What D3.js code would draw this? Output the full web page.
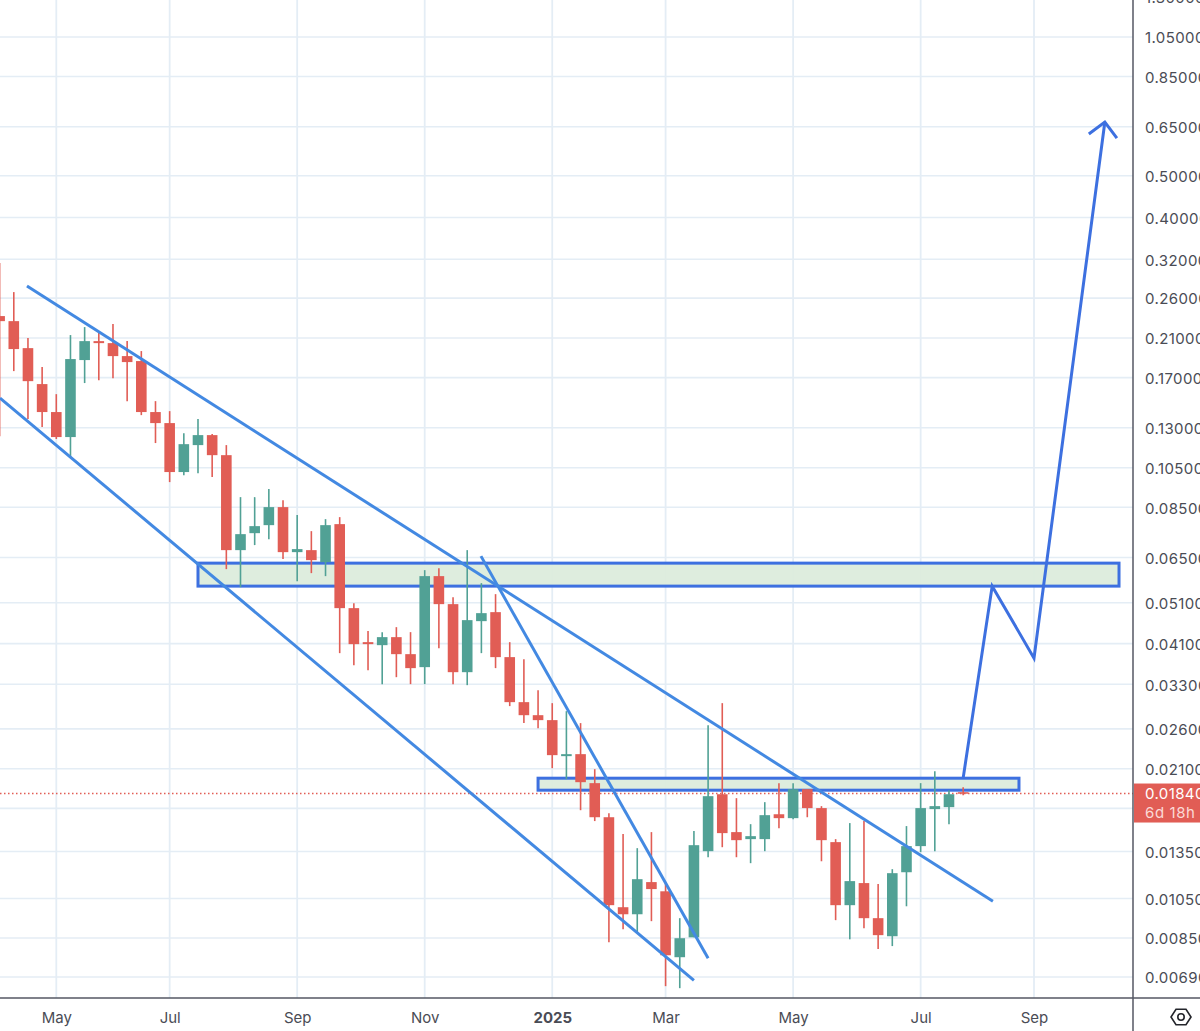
<!DOCTYPE html>
<html><head><meta charset="utf-8">
<script src="https://cdn.jsdelivr.net/npm/d3@7"></script>
<style>
html,body{margin:0;padding:0;background:#fff;overflow:hidden}
svg{display:block}
text{font-family:Inter,Roboto,sans-serif}
</style></head><body>
<svg id="c" width="1200" height="1031"></svg>
<script>
// Weekly candles, first bar 2024-04-08
const opens=[.2362,.2299,.1990,.1642,.1414,.1237,.1867,.2066,.2044,.1907,.1857,.1414,.1333,.1026,.1185,.1250,.1123,.06759,.07401,.07725,.08506,.06687,.06759,.06339,.07767,.04957,.04133,.04067,.04245,.03876,.03616,.05882,.05064,.0352,.04624,.04852,.03815,.02999,.02797,.02724,.02247,.02271,.01945,.01621,.01002,.00965,.01146,.01091,.00767,.00853,.01352,.01833,.01497,.01442,.01442,.01647,.01613,.01883,.01702,.01419,.01013,.0114,.00945,.00858,.01208,.01389,.01693,.01711,.01853];
const highs=[.3135,.2685,.2100,.1798,.1556,.2134,.2227,.2168,.2263,.2066,.1959,.1499,.1421,.1263,.1362,.1257,.1185,.08973,.08973,.09366,.0883,.0815,.07481,.07977,.08063,.05091,.04384,.0436,.04478,.0436,.06073,.06139,.05257,.06759,.05666,.05342,.04133,.03774,.03197,.02983,.02858,.02681,.02096,.01656,.01481,.01374,.01497,.01146,.00945,.01505,.02652,.02983,.01795,.01562,.01757,.01945,.01945,.01883,.0172,.01442,.01571,.01588,.01134,.01228,.01546,.01945,.02074,.01873,.01903];
const lows=[.1243,.1760,.1362,.1305,.1224,.1111,.1651,.1677,.1695,.1499,.1391,.1198,.09723,.1009,.1020,.09986,.06106,.05546,.06943,.07168,.06442,.05726,.05977,.05882,.03897,.03655,.03558,.03302,.03427,.03302,.03302,.04002,.03302,.03284,.03897,.03597,.02936,.02681,.0261,.02107,.01987,.01683,.01588,.00831,.00891,.00872,.0093,.00657,.0065,.00853,.01309,.01381,.01309,.01268,.01352,.01529,.01604,.01621,.01281,.00935,.00844,.00896,.00801,.00814,.01007,.01345,.01352,.01562,.01824];
const closes=[.2299,.1980,.1668,.1414,.1237,.1877,.2066,.2044,.1907,.1847,.1414,.1333,.1026,.1191,.1250,.1123,.06759,.07362,.07684,.08506,.06687,.06796,.06407,.07725,.04957,.04089,.04089,.04245,.03876,.03597,.05882,.05064,.0352,.04649,.04826,.03815,.02999,.02797,.02724,.02259,.02271,.01955,.01621,.01013,.00965,.01164,.01104,.00775,.00849,.01396,.01814,.01489,.01434,.01465,.01639,.01613,.01883,.01702,.01434,.01013,.01152,.00945,.00863,.01202,.01389,.01702,.0172,.01833,.0184];

const yTicks=[1.3,1.05,.85,.65,.5,.4,.32,.26,.21,.17,.13,.105,.085,.065,.051,.041,.033,.026,.021,.0135,.0105,.0085,.0069];
const hiddenGridPrice=0.017;
const xTickDates=["2024-05-06","2024-07-01","2024-09-02","2024-11-04","2025-01-06","2025-03-03","2025-05-05","2025-07-07","2025-09-01"];
const xTickLabels=["May","Jul","Sep","Nov","2025","Mar","May","Jul","Sep"];
const lastPrice=0.0184, lastLabel="0.01840", countdown="6d 18h";

// Hand-drawn overlays: week offsets from 2024-05-06, and prices
const upperLineWeeks=[-2.07,66.1], upperLinePrices=[.2773,.01034];
const lowerLineWeeks=[-3.97,45.0], lowerLinePrices=[.1524,.00678];
const steepLineWeeks=[29.97,46.0], steepLinePrices=[.06546,.00763];
const pathWeeks=[64,66.05,69,74], pathPrices=[.01998,.05576,.03794,.6665];
const headWeeks=[72.87,74,74.85], headPrices=[.6250,.6665,.6118];
const zoneUpperWeeks=[10,75], zoneUpperPrices=[.06305,.05576];
const zoneLowerWeeks=[34,67.94], zoneLowerPrices=[.01997,.01873];

const WEEK=7*864e5;
const dateOf=w=>new Date(Date.UTC(2024,4,6)+w*WEEK);
const parse=d3.utcParse("%Y-%m-%d");
const x=d3.scaleUtc().domain([parse("2024-05-06"),parse("2025-09-01")]).range([56.3,1034]);
const y=d3.scaleLog().domain([1.05,.0069]).range([37,977]);
const plotW=1133, plotH=998;
const GRID="#e4edf5", UP="#51a195", DOWN="#e15d55", BLUE="#4389e2", BOX="#3d70e0";

const svg=d3.select("#c");
svg.append("defs").append("clipPath").attr("id","plot").append("rect").attr("width",plotW).attr("height",plotH);
const g=svg.append("g").attr("clip-path","url(#plot)");

// grid
g.append("g").selectAll("line").data(yTicks.concat([hiddenGridPrice])).join("line")
 .attr("x1",0).attr("x2",plotW).attr("y1",d=>y(d)).attr("y2",d=>y(d)).attr("stroke",GRID).attr("stroke-width",1.6);
g.append("g").selectAll("line").data(xTickDates).join("line")
 .attr("x1",d=>x(parse(d))).attr("x2",d=>x(parse(d))).attr("y1",0).attr("y2",plotH).attr("stroke",GRID).attr("stroke-width",1.8);

// zones behind candles
function zone(ws,ps){
  const X=x(dateOf(ws[0])),W=x(dateOf(ws[1]))-X,Y=y(ps[0]),H=y(ps[1])-Y;
  g.append("rect").attr("x",X).attr("y",Y).attr("width",W).attr("height",H)
   .attr("fill","#dcecdc").attr("fill-opacity",.95).attr("stroke",BOX).attr("stroke-width",3);
}
zone(zoneUpperWeeks,zoneUpperPrices);
zone(zoneLowerWeeks,zoneLowerPrices);

// last price line
g.append("line").attr("x1",0).attr("x2",plotW).attr("y1",y(lastPrice)).attr("y2",y(lastPrice))
 .attr("stroke",DOWN).attr("stroke-width",1.3).attr("stroke-dasharray","1.5 2.5");

// candles
const bars=closes.map((c,i)=>({c,o:opens[i],h:highs[i],l:lows[i],d:new Date(Date.UTC(2024,3,8)+i*WEEK)}));
const cg=g.append("g").selectAll("g").data(bars).join("g");
cg.append("line").attr("x1",d=>x(d.d)).attr("x2",d=>x(d.d)).attr("y1",d=>y(d.h)).attr("y2",d=>y(d.l))
 .attr("stroke",d=>d.c>=d.o?UP:DOWN).attr("stroke-width",1.6);
cg.append("rect").attr("x",d=>x(d.d)-5.3).attr("width",10.6)
 .attr("y",d=>y(Math.max(d.o,d.c))).attr("height",d=>Math.max(1.5,Math.abs(y(d.o)-y(d.c))))
 .attr("fill",d=>d.c>=d.o?UP:DOWN);

// drawn lines
const line=d3.line().x(d=>x(dateOf(d[0]))).y(d=>y(d[1]));
function draw(ws,ps,col,sw){
  g.append("path").attr("d",line(ws.map((w,i)=>[w,ps[i]]))).attr("fill","none")
   .attr("stroke",col).attr("stroke-width",sw).attr("stroke-linejoin","miter");
}
draw(upperLineWeeks,upperLinePrices,BLUE,3);
draw(lowerLineWeeks,lowerLinePrices,BLUE,3);
draw(steepLineWeeks,steepLinePrices,BLUE,3);
draw(pathWeeks,pathPrices,BOX,3);
draw(headWeeks,headPrices,BOX,3);

// axes
const ax=svg.append("g").attr("transform",`translate(${plotW},1)`)
 .call(d3.axisRight(y).tickValues(yTicks).tickFormat(d3.format(".5f")).tickSize(0).tickPadding(12));
ax.select(".domain").remove();
ax.selectAll("text").attr("fill","#4a4c55").style("font-size","15px").style("letter-spacing","0.4px").style("font-family","Inter,Roboto,sans-serif");

const bx=svg.append("g").attr("transform",`translate(0,${plotH+2})`)
 .call(d3.axisBottom(x).tickValues(xTickDates.map(parse)).tickFormat((d,i)=>xTickLabels[i]).tickSize(0).tickPadding(12));
bx.select(".domain").remove();
bx.selectAll("text").attr("fill","#4a4c55").style("font-size","15px").style("font-family","Inter,Roboto,sans-serif")
 .style("font-weight",(d,i)=>xTickLabels[i]==="2025"?"700":"400");

svg.append("line").attr("x1",plotW).attr("x2",plotW).attr("y1",0).attr("y2",1031).attr("stroke","#555763").attr("stroke-width",1.5);
svg.append("line").attr("x1",0).attr("x2",1200).attr("y1",plotH).attr("y2",plotH).attr("stroke","#555763").attr("stroke-width",1.5);

// last price tag
const ly=y(lastPrice);
svg.append("rect").attr("x",plotW+1).attr("y",ly-10).attr("width",67).attr("height",39).attr("fill",DOWN);
svg.append("text").attr("x",1145).attr("y",ly+5).attr("fill","#fff").style("font-size","15px").style("letter-spacing","0.4px").text(lastLabel);
svg.append("text").attr("x",1145).attr("y",ly+24).attr("fill","#fbd9d6").style("font-size","15px").style("letter-spacing","0.6px").text(countdown);

// settings hexagon
const ic=svg.append("g").attr("transform","translate(1181,1017)").attr("fill","none").attr("stroke","#23252b").attr("stroke-width",1.6);
ic.append("path").attr("d",d3.line()(d3.range(6).map(i=>{const a=i*Math.PI/3;return [10*Math.cos(a),9*Math.sin(a)];}))+"Z");
ic.append("circle").attr("r",3.2);
</script>
</body></html>
